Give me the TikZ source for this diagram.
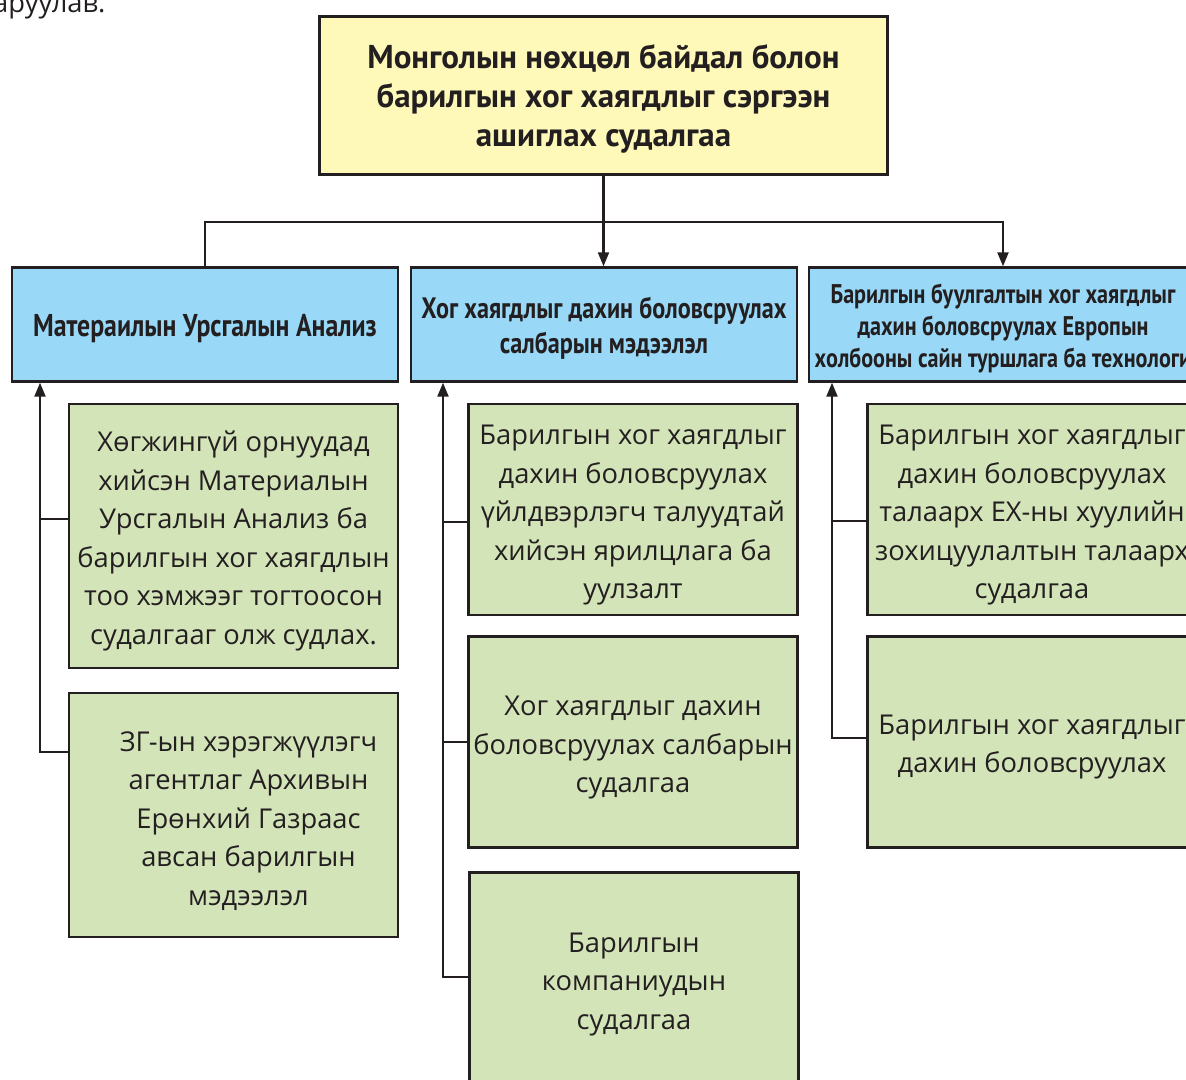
\documentclass[tikz,border=0pt]{standalone}
\usepackage{fontspec}
\setmainfont{Open Sans}
\newfontfamily\hdfont[FakeStretch=0.82]{PT Sans}
\newfontfamily\ttlfont{PT Sans}
\usetikzlibrary{arrows.meta}
\definecolor{ylw}{RGB}{255,249,185}
\definecolor{blu}{RGB}{153,217,247}
\definecolor{grn}{RGB}{212,228,185}
\definecolor{ink}{RGB}{35,31,32}
\begin{document}
\begin{tikzpicture}[x=1pt,y=-1pt,
  box/.style={draw=ink, line width=2.4pt, inner sep=0pt},
  txt/.style={align=center, text=ink, inner sep=0pt},
  ttlbox/.style={box, fill=ylw, minimum width=568pt, minimum height=158pt},
  ttltxt/.style={txt, font=\ttlfont\bfseries\fontsize{33}{39}\selectfont},
  hdbox/.style={box, fill=blu, minimum width=386pt, minimum height=114pt},
  hdtxt/.style={txt, font=\hdfont\bfseries\fontsize{29.5}{35}\selectfont},
  hdbig/.style={txt, font=\hdfont\bfseries\fontsize{31.5}{35}\selectfont},
  hdsmall/.style={txt, font=\hdfont\bfseries\fontsize{27}{32}\selectfont},
  grbox/.style={box, fill=grn, minimum width=329pt},
  bodytxt/.style={txt, font=\fontsize{27.3}{38.5}\selectfont},
  conn/.style={draw=ink, line width=2.2pt},
  arr/.style={-{Triangle[length=14pt,width=11pt]}}
]
\useasboundingbox (0,0) rectangle (1186,1079);

% partial caption at the top edge
\node[bodytxt, anchor=base west] (cap) at (-7,12) {аруулав.};

% title
\node[ttlbox] (top) at (603.5,95.5) {};
\node[ttltxt] (topt) at ([yshift=-3pt]top.center) {Монголын нөхцөл байдал болон\\барилгын хог хаягдлыг сэргээн\\ашиглах судалгаа};

% headers
\node[hdbox] (b1) at (205,324.5) {};
\node[hdbig] (b1t) at ([yshift=-4pt]b1.center) {Матераилын Урсгалын Анализ};
\node[hdbox] (b2) at (604,324.5) {};
\node[hdtxt] (b2t) at ([yshift=-4pt]b2.center) {Хог хаягдлыг дахин боловсруулах\\салбарын мэдээлэл};
\node[hdbox, minimum width=388pt] (b3) at (1003,324.5) {};
\node[hdsmall] (b3t) at ([yshift=-4pt]b3.center) {Барилгын буулгалтын хог хаягдлыг\\дахин боловсруулах Европын\\холбооны сайн туршлага ба технологи};

% column 1
\node[grbox, minimum height=264pt] (A) at (233.5,536) {};
\node[bodytxt] (At) at ([yshift=-5pt]A.center) {Хөгжингүй орнуудад\\хийсэн Материалын\\Урсгалын Анализ ба\\барилгын хог хаягдлын\\тоо хэмжээг тогтоосон\\судалгааг олж судлах.};
\node[grbox, minimum height=244pt] (B) at (233.5,815) {};
\node[bodytxt] (Bt) at ([xshift=15pt,yshift=-6pt]B.center) {ЗГ-ын хэрэгжүүлэгч\\агентлаг Архивын\\Ерөнхий Газраас\\авсан барилгын\\мэдээлэл};

% column 2
\node[grbox, minimum height=211pt] (C) at (633,509.5) {};
\node[bodytxt] (Ct) at ([yshift=-6pt]C.center) {Барилгын хог хаягдлыг\\дахин боловсруулах\\үйлдвэрлэгч талуудтай\\хийсэн ярилцлага ба\\уулзалт};
\node[grbox, minimum height=211pt] (D) at (633,742) {};
\node[bodytxt] (Dt) at ([yshift=-6pt]D.center) {Хог хаягдлыг дахин\\боловсруулах салбарын\\судалгаа};
\node[grbox, minimum height=216pt] (E) at (634,980.5) {};
\node[bodytxt] (Et) at ([yshift=-4pt]E.center) {Барилгын\\компаниудын\\судалгаа};

% column 3
\node[grbox, minimum height=211pt] (F) at (1032,509.5) {};
\node[bodytxt] (Ft) at ([yshift=-6pt]F.center) {Барилгын хог хаягдлыг\\дахин боловсруулах\\талаарх ЕХ-ны хуулийн\\зохицуулалтын талаарх\\судалгаа};
\node[grbox, minimum height=211pt] (G) at (1032,742) {};
\node[bodytxt] (Gt) at ([yshift=-5pt]G.center) {Барилгын хог хаягдлыг\\дахин боловсруулах};

% top connectors
\coordinate (hr) at (1003,222);
\draw[conn, arr] (top.south) -- (top.south |- b2.north);
\draw[conn, arr] (b1.north) |- (hr) -- (b3.north);

% column 1 bracket
\coordinate (k1a) at (40,519);
\coordinate (k1b) at (40,752);
\draw[conn, arr] (k1b -| B.west) -- (k1b) -- (k1b |- b1.south);
\draw[conn] (k1a) -- (k1a -| A.west);

% column 2 bracket
\coordinate (k2a) at (443,522);
\coordinate (k2b) at (443,742);
\coordinate (k2c) at (443,977);
\draw[conn, arr] (k2c -| E.west) -- (k2c) -- (k2c |- b2.south);
\draw[conn] (k2a) -- (k2a -| C.west);
\draw[conn] (k2b) -- (k2b -| D.west);

% column 3 bracket
\coordinate (k3a) at (832,521);
\coordinate (k3b) at (832,738);
\draw[conn, arr] (k3b -| G.west) -- (k3b) -- (k3b |- b3.south);
\draw[conn] (k3a) -- (k3a -| F.west);
\end{tikzpicture}
\end{document}
